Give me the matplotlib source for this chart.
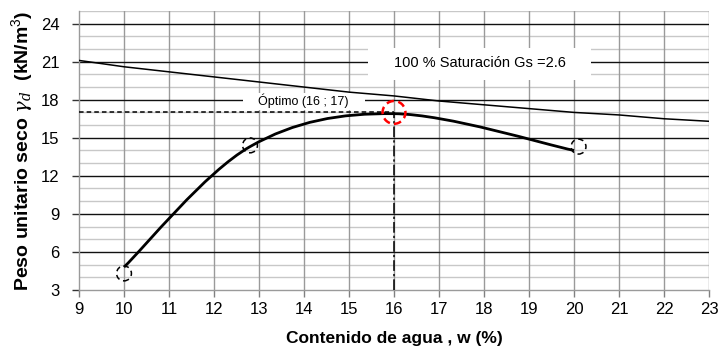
import numpy as np
import matplotlib
matplotlib.use('Agg')
import matplotlib.pyplot as plt
from matplotlib.path import Path
from matplotlib.patches import PathPatch, Rectangle

plt.rcParams['font.family'] = ['Liberation Sans', 'DejaVu Sans']
plt.rcParams['mathtext.fontset'] = 'custom'
plt.rcParams['mathtext.rm'] = 'Liberation Sans'
plt.rcParams['mathtext.it'] = 'DejaVu Serif:italic'
plt.rcParams['mathtext.bf'] = 'Liberation Sans:bold'

## compaction curve (smoothed through these points)
w_curve     = [10.0, 12.8, 16.0, 20.0]
gd_curve    = [4.8, 14.3, 16.9, 14.0]

## test points shown as open markers
w_pts       = [10.0, 12.8, 20.1]
gd_pts      = [4.3, 14.4, 14.3]

## optimum
w_opt       = 16
gd_opt      = 17

## zero air voids line, Gs = 2.6
w_sat       = [9, 10, 11, 12, 13, 14, 15, 16, 17, 18, 19, 20, 21, 22, 23]
gd_sat      = [21.1, 20.6, 20.2, 19.8, 19.4, 19.0, 18.6, 18.3, 17.9, 17.6,
               17.3, 17.0, 16.8, 16.5, 16.3]

x_ticks     = list(range(9, 24))
y_ticks     = [3, 6, 9, 12, 15, 18, 21, 24]


def smooth_path(x, y):
    '''
    bezier path through the points (catmull-rom style control points)
    '''
    p     = np.column_stack([x, y])
    n     = len(p)
    verts = [p[0]]
    codes = [Path.MOVETO]
    for i in range(n - 1):
        p_prev = p[i - 1] if i > 0 else p[i]
        p_next = p[i + 2] if i + 2 < n else p[i + 1]
        c1     = p[i] + (p[i + 1] - p_prev) / 6.
        c2     = p[i + 1] - (p_next - p[i]) / 6.
        verts += [c1, c2, p[i + 1]]
        codes += [Path.CURVE4] * 3
    return Path(verts, codes)


fig = plt.figure(figsize=(7.18, 3.54), dpi=100)
ax  = fig.add_axes([0.110, 0.181, 0.8775, 0.788])

ax.set_xlim(9, 23)
ax.set_ylim(3, 25)

## grid
for yy in range(4, 26):
    if yy % 3 == 0:
        ax.axhline(yy, color='#111111', lw=1.0, zorder=1)
    else:
        ax.axhline(yy, color='#c8c8c8', lw=1.0, zorder=0.5)
for xx in x_ticks[1:]:
    ax.axvline(xx, color='#9a9a9a', lw=1.0, zorder=0.8)

ax.set_xticks(x_ticks)
ax.set_yticks(y_ticks)
ax.tick_params(axis='both', labelsize=12, color='#808080', width=1.0, length=5)
ax.tick_params(axis='x', pad=4)
ax.tick_params(axis='y', color='#333333', pad=9)
for s in ['top', 'right']:
    ax.spines[s].set_visible(False)
for s in ['left', 'bottom']:
    ax.spines[s].set_color('#9a9a9a')
    ax.spines[s].set_linewidth(1.0)

## label boxes
ax.add_patch(Rectangle((0.459, 0.753), 0.354, 0.114, transform=ax.transAxes,
                       facecolor='white', edgecolor='none', zorder=2))
ax.text(0.636, 0.812, '100 % Saturación Gs =2.6', transform=ax.transAxes,
        ha='center', va='center', fontsize=10.5, zorder=3)
ax.add_patch(Rectangle((0.260, 0.645), 0.194, 0.062, transform=ax.transAxes,
                       facecolor='white', edgecolor='none', zorder=2))
ax.text(0.356, 0.677, 'Óptimo (16 ; 17)', transform=ax.transAxes,
        ha='center', va='center', fontsize=9, zorder=3)

## saturation line
ax.plot(w_sat, gd_sat, color='black', lw=1.1, zorder=4)

## optimum guides
ax.plot([9, w_opt], [gd_opt, gd_opt], color='black', lw=1.1,
        linestyle=(0, (3, 2)), zorder=4)
ax.plot([w_opt, w_opt], [3, gd_opt], color='black', lw=1.1,
        linestyle=(0, (7, 2, 1.5, 2)), zorder=4)

## compaction curve
ax.add_patch(PathPatch(smooth_path(w_curve, gd_curve), facecolor='none',
                       edgecolor='black', lw=2.0, zorder=5))

## markers
ax.scatter(w_pts, gd_pts, s=115, facecolors='none', edgecolors='black',
           linewidths=1.1, linestyle=(0, (3.5, 2.5)), zorder=6)
ax.scatter([w_opt], [gd_opt], s=270, facecolors='none', edgecolors='red',
           linewidths=1.8, linestyle=(0, (3, 1.8)), zorder=6)

ax.set_xlabel('Contenido de agua , w (%)', fontsize=12.5, fontweight='bold', labelpad=10)
ax.set_ylabel(r'Peso unitario seco $\gamma_d$  (kN/m$^3$)', fontsize=14,
              fontweight='bold', labelpad=4)

fig.savefig('out.png', dpi=100)
